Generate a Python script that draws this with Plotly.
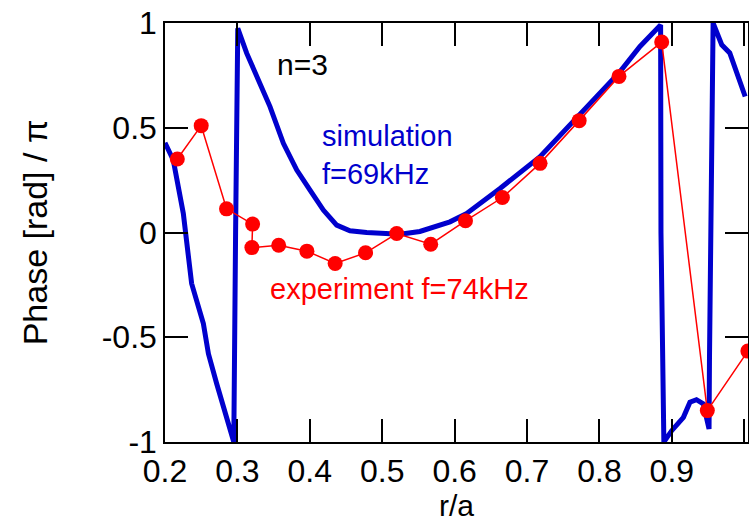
import plotly.graph_objects as go

# Simulation (blue) phase profile, n=3, f=69kHz
sim_x = [0.200, 0.2114, 0.2253, 0.2368, 0.253, 0.260, 0.2714, 0.285, 0.2935, 0.295,
         0.2975, 0.300, 0.3005, 0.3128, 0.331, 0.345, 0.3635, 0.382, 0.4003, 0.4187,
         0.4371, 0.4555, 0.4785, 0.5108, 0.5246, 0.552, 0.5936, 0.6167, 0.6627, 0.718,
         0.7732, 0.8285, 0.856, 0.870, 0.8837, 0.8845, 0.885, 0.887, 0.889, 0.8998,
         0.916, 0.925, 0.934, 0.9435, 0.9514, 0.952, 0.9535, 0.956, 0.957, 0.9689,
         0.980, 1.0013]
sim_y = [0.428, 0.346, 0.091, -0.244, -0.435, -0.579, -0.722, -0.882, -0.978, -1.0,
         0.0, 0.72, 0.975, 0.856, 0.713, 0.601, 0.426, 0.298, 0.202, 0.107,
         0.035, 0.008, 0.0, -0.005, -0.008, 0.005, 0.051, 0.091, 0.21, 0.362,
         0.569, 0.768, 0.888, 0.936, 0.984, 0.99, 0.0, -0.6, -1.0, -0.946,
         -0.882, -0.81, -0.798, -0.818, -0.938, -0.6, 0.0, 0.6, 1.0, 0.896,
         0.857, 0.649]

# Experiment (red) phase profile, f=74kHz
exp_x = [0.217, 0.250, 0.285, 0.321, 0.320, 0.357, 0.396, 0.435, 0.477, 0.520,
         0.567, 0.615, 0.666, 0.718, 0.772, 0.827, 0.886, 0.949, 1.005]
exp_y = [0.351, 0.510, 0.113, 0.040, -0.072, -0.061, -0.089, -0.148, -0.097, -0.005,
         -0.056, 0.056, 0.167, 0.330, 0.534, 0.745, 0.909, -0.850, -0.566]

x_ticks = [0.2, 0.3, 0.4, 0.5, 0.6, 0.7, 0.8, 0.9, 1.0]
x_ticktext = ["0.2", "0.3", "0.4", "0.5", "0.6", "0.7", "0.8", "0.9", "1"]
y_ticks = [-1, -0.5, 0, 0.5, 1]
y_ticktext = ["-1", "-0.5", "0", "0.5", "1"]

FONT = "Liberation Sans, Arial, sans-serif"

fig = go.Figure()
fig.add_trace(go.Scatter(x=sim_x, y=sim_y, mode="lines",
                         line=dict(color="#0000cd", width=5), name="simulation"))
fig.add_trace(go.Scatter(x=exp_x, y=exp_y, mode="lines+markers",
                         line=dict(color="#ff0000", width=1.5),
                         marker=dict(color="#ff0000", size=15), name="experiment"))

fig.add_annotation(x=0.352, y=0.80, text="n=3", showarrow=False, xanchor="left",
                   yanchor="middle", font=dict(family=FONT, size=30, color="black"))
fig.add_annotation(x=0.414, y=0.37, text="simulation<br>f=69kHz", showarrow=False,
                   xanchor="left", yanchor="middle", align="left",
                   font=dict(family=FONT, size=29, color="#0000cd"))
fig.add_annotation(x=0.342, y=-0.272, text="experiment f=74kHz", showarrow=False,
                   xanchor="left", yanchor="middle",
                   font=dict(family=FONT, size=29, color="#ff0000"))

fig.update_layout(
    template="none",
    width=749, height=531, margin=dict(l=165, r=1, t=23, b=89),
    plot_bgcolor="white", paper_bgcolor="white", showlegend=False,
    xaxis=dict(range=[0.2, 1.0052], tickmode="array", tickvals=x_ticks, ticktext=x_ticktext,
               ticks="inside", ticklen=23, tickwidth=1.5, tickcolor="#000000",
               showline=True, linecolor="#000000", linewidth=1.5, mirror="ticks",
               showgrid=False, zeroline=False, layer="above traces",
               tickfont=dict(family=FONT, size=32, color="black"),
               title=dict(text="r/a", font=dict(family=FONT, size=30, color="black"), standoff=4)),
    yaxis=dict(range=[-1, 1], tickmode="array", tickvals=y_ticks, ticktext=y_ticktext,
               ticks="inside", ticklen=23, tickwidth=1.5, tickcolor="#000000",
               showline=True, linecolor="#000000", linewidth=1.5, mirror="ticks",
               showgrid=False, zeroline=False, layer="above traces",
               tickfont=dict(family=FONT, size=32, color="black"),
               title=dict(text="Phase [rad] / π", font=dict(family=FONT, size=34, color="black"),
                          standoff=44)),
)

fig.write_html("out.html")
